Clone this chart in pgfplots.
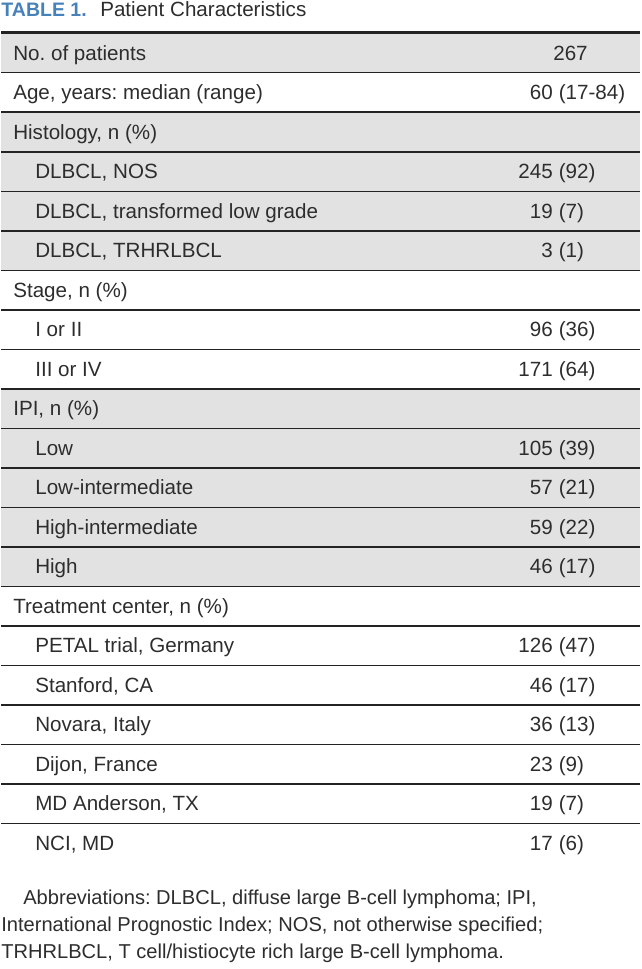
\documentclass[border=0pt]{standalone}
\usepackage{pgfplots}
\pgfplotsset{compat=1.18}
\usepackage{fontspec}
\setmainfont{Liberation Sans}
\frenchspacing
\definecolor{rowgray}{RGB}{226,226,226}
\definecolor{titleblue}{RGB}{70,130,185}
\definecolor{txtcol}{RGB}{45,45,45}
\definecolor{linecol}{RGB}{35,35,35}
\newcommand\fs{\fontsize{20.6bp}{24bp}\selectfont\frenchspacing}
\newcommand\fn{\fontsize{20.1bp}{24bp}\selectfont\frenchspacing}
\tikzset{txt/.style={inner sep=0pt,outer sep=0pt,text=txtcol,font=\fs},
  ftxt/.style={inner sep=0pt,outer sep=0pt,text=txtcol,font=\fn}}
\newcommand\Gray[1]{\fill[rowgray] (axis cs:0,{33.2+39.52*#1}) rectangle (axis cs:639,{33.2+39.52*(#1+1)});}
\newcommand\Sep[1]{\draw[linecol,line width=1.5bp] (axis cs:0,{33.2+39.52*#1}) -- (axis cs:639,{33.2+39.52*#1});}
\newcommand\Lab[3]{\node[txt,anchor=base west] at (axis cs:#2,{33.2+39.52*#1+26.86}) {#3};}
\newcommand\Val[3]{\node[txt,anchor=base east] at (axis cs:551.5,{33.2+39.52*#1+26.86}) {#2};
  \node[txt,anchor=base west] at (axis cs:557.5,{33.2+39.52*#1+26.86}) {(#3)};}
\begin{document}
\begin{tikzpicture}
\begin{axis}[width=639bp,height=969bp,scale only axis,
  xmin=0,xmax=639,ymin=0,ymax=969,y dir=reverse,hide axis,clip=false]
\path (axis cs:0,0) rectangle (axis cs:639,969);
% shaded rows
\Gray{0}\Gray{2}\Gray{3}\Gray{4}\Gray{5}
\Gray{9}\Gray{10}\Gray{11}\Gray{12}\Gray{13}
% rules
\draw[linecol,line width=2.6bp] (axis cs:0,32.4) -- (axis cs:639,32.4);
\Sep{1}\Sep{2}\Sep{3}\Sep{4}\Sep{5}\Sep{6}\Sep{7}\Sep{8}\Sep{9}\Sep{10}
\Sep{11}\Sep{12}\Sep{13}\Sep{14}\Sep{15}\Sep{16}\Sep{17}\Sep{18}\Sep{19}\Sep{20}
% title
\node[inner sep=0pt,anchor=base west,text=titleblue,font={\fontsize{19.5bp}{22bp}\selectfont\bfseries}] at (axis cs:0,16.6) {TABLE 1.};
\node[txt,anchor=base west] at (axis cs:99,16.6) {Patient Characteristics};
% labels
\Lab{0}{12}{No. of patients}
\Lab{1}{12}{Age, years: median (range)}
\Lab{2}{12}{Histology, n (\%)}
\Lab{3}{34}{DLBCL, NOS}
\Lab{4}{34}{DLBCL, transformed low grade}
\Lab{5}{34}{DLBCL, TRHRLBCL}
\Lab{6}{12}{Stage, n (\%)}
\Lab{7}{34}{I or II}
\Lab{8}{34}{III or IV}
\Lab{9}{12}{IPI, n (\%)}
\Lab{10}{34}{Low}
\Lab{11}{34}{Low-intermediate}
\Lab{12}{34}{High-intermediate}
\Lab{13}{34}{High}
\Lab{14}{12}{Treatment center, n (\%)}
\Lab{15}{34}{PETAL trial, Germany}
\Lab{16}{34}{Stanford, CA}
\Lab{17}{34}{Novara, Italy}
\Lab{18}{34}{Dijon, France}
\Lab{19}{34}{MD Anderson, TX}
\Lab{20}{34}{NCI, MD}
% values
\node[txt,anchor=base west] at (axis cs:552,{33.2+26.86}) {267};
\Val{1}{60}{17-84}
\Val{3}{245}{92}
\Val{4}{19}{7}
\Val{5}{3}{1}
\Val{7}{96}{36}
\Val{8}{171}{64}
\Val{10}{105}{39}
\Val{11}{57}{21}
\Val{12}{59}{22}
\Val{13}{46}{17}
\Val{15}{126}{47}
\Val{16}{46}{17}
\Val{17}{36}{13}
\Val{18}{23}{9}
\Val{19}{19}{7}
\Val{20}{17}{6}
% footnote
\node[ftxt,anchor=base west] at (axis cs:22,904) {Abbreviations: DLBCL, diffuse large B-cell lymphoma; IPI,};
\node[ftxt,anchor=base west] at (axis cs:0,931) {International Prognostic Index; NOS, not otherwise specified;};
\node[ftxt,anchor=base west] at (axis cs:0,958) {TRHRLBCL, T cell/histiocyte rich large B-cell lymphoma.};
\end{axis}
\end{tikzpicture}
\end{document}
